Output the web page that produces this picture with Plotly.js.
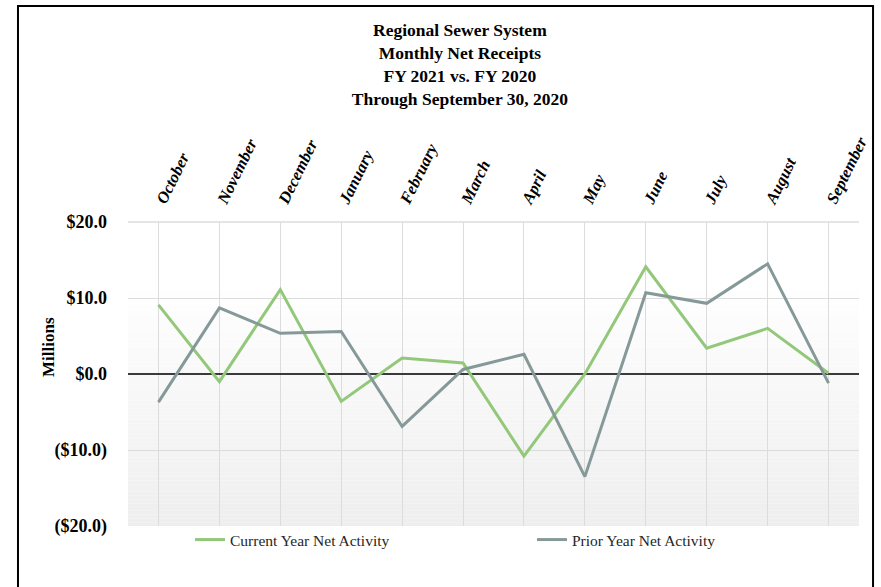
<!DOCTYPE html>
<html>
<head>
<meta charset="utf-8">
<script src="https://cdn.plot.ly/plotly-3.0.1.min.js"></script>
<style>
  html, body { margin: 0; padding: 0; background: #fff; }
  #chart { width: 881px; height: 587px; }
</style>
</head>
<body>
<div id="chart"></div>
<script>
// months of the fiscal year (Oct - Sep)
var months = ['October', 'November', 'December', 'January', 'February', 'March',
              'April', 'May', 'June', 'July', 'August', 'September'];

// net activity, $ millions
var currentYear = [9.1, -1.0, 11.1, -3.6, 2.1, 1.45, -10.8, 0.0, 14.1, 3.4, 6.0, 0.1];
var priorYear   = [-3.7, 8.7, 5.35, 5.6, -6.9, 0.6, 2.6, -13.5, 10.7, 9.3, 14.5, -1.2];

var yTicks     = [20, 10, 0, -10, -20];
var yTickText  = ['$20.0', '$10.0', '$0.0', '($10.0)', '($20.0)'];

var serif = '"Liberation Serif", "DejaVu Serif", serif';

// soft grey fade towards the bottom of the plot area, done with thin bands
var shapes = [];
var fadeTop = 12, fadeBottom = -20, steps = 64;
for (var i = 0; i < steps; i++) {
    var y0 = fadeTop - (fadeTop - fadeBottom) * i / steps;
    var y1 = fadeTop - (fadeTop - fadeBottom) * (i + 1) / steps;
    var g = Math.round(255 - 17 * (i + 0.5) / steps);
    shapes.push({
        type: 'rect', layer: 'below', xref: 'x', yref: 'y',
        x0: -0.5, x1: 11.5, y0: y0, y1: y1,
        fillcolor: 'rgb(' + g + ',' + g + ',' + g + ')',
        line: {width: 0}
    });
}
// faint line along the top of the plot (the $20 gridline)
shapes.push({
    type: 'line', layer: 'below', xref: 'paper', yref: 'paper',
    x0: 0, x1: 1, y0: 1, y1: 1,
    line: {color: '#dcdcdc', width: 1.5}
});
// outer frame
shapes.push({
    type: 'rect', xref: 'paper', yref: 'paper',
    x0: -0.1505, x1: 1.0192, y0: -0.3, y1: 1.7105,
    line: {color: '#000', width: 2}, fillcolor: 'rgba(0,0,0,0)'
});

var data = [
    {
        x: months, y: currentYear, type: 'scatter', mode: 'lines',
        name: 'Current Year Net Activity',
        line: {color: '#93c87b', width: 3},
        legend: 'legend'
    },
    {
        x: months, y: priorYear, type: 'scatter', mode: 'lines',
        name: 'Prior Year Net Activity',
        line: {color: '#869999', width: 3},
        legend: 'legend2'
    }
];

var legendBase = {
    orientation: 'h', xanchor: 'left', yanchor: 'middle', y: -0.046,
    bgcolor: 'rgba(0,0,0,0)', borderwidth: 0,
    font: {family: serif, size: 15.5, color: '#262626'}
};

var layout = {
    width: 881, height: 587,
    margin: {l: 128, r: 22, t: 222, b: 61},
    paper_bgcolor: '#fff',
    plot_bgcolor: 'rgba(0,0,0,0)',
    title: {
        text: 'Regional Sewer System<br>Monthly Net Receipts<br>FY 2021 vs. FY 2020<br>Through September 30, 2020',
        font: {family: serif, size: 17.5, color: '#000', weight: 'bold'},
        xref: 'container', yref: 'container',
        x: 0.522, xanchor: 'center', y: 0.938, yanchor: 'top'
    },
    xaxis: {
        type: 'category', side: 'top',
        range: [-0.5, 11.5],
        tickangle: -64,
        tickfont: {family: serif, size: 16.5, color: '#000', weight: 'bold', style: 'italic'},
        ticklabelstandoff: 8,
        showgrid: true, gridcolor: '#dcdcdc', gridwidth: 1,
        showline: false, zeroline: false, ticks: '',
        fixedrange: true
    },
    yaxis: {
        range: [-20, 20],
        tickvals: yTicks, ticktext: yTickText,
        tickfont: {family: serif, size: 18, color: '#000', weight: 'bold'},
        ticklabelstandoff: 20,
        showgrid: true, gridcolor: '#dcdcdc', gridwidth: 1,
        zeroline: true, zerolinecolor: '#3a3a3a', zerolinewidth: 1.5,
        showline: false, ticks: '',
        fixedrange: true
    },
    annotations: [{
        text: 'Millions', textangle: -90,
        xref: 'paper', yref: 'paper',
        x: (48 - 128) / 731, y: (526 - 347) / 304,
        xanchor: 'center', yanchor: 'middle', showarrow: false,
        font: {family: serif, size: 17, color: '#000', weight: 'bold'}
    }],
    legend: Object.assign({}, legendBase, {x: (190 - 128) / 731}),
    legend2: Object.assign({}, legendBase, {x: (532 - 128) / 731}),
    shapes: shapes,
    showlegend: true
};

Plotly.newPlot('chart', data, layout, {displayModeBar: false, staticPlot: true});
</script>
</body>
</html>
